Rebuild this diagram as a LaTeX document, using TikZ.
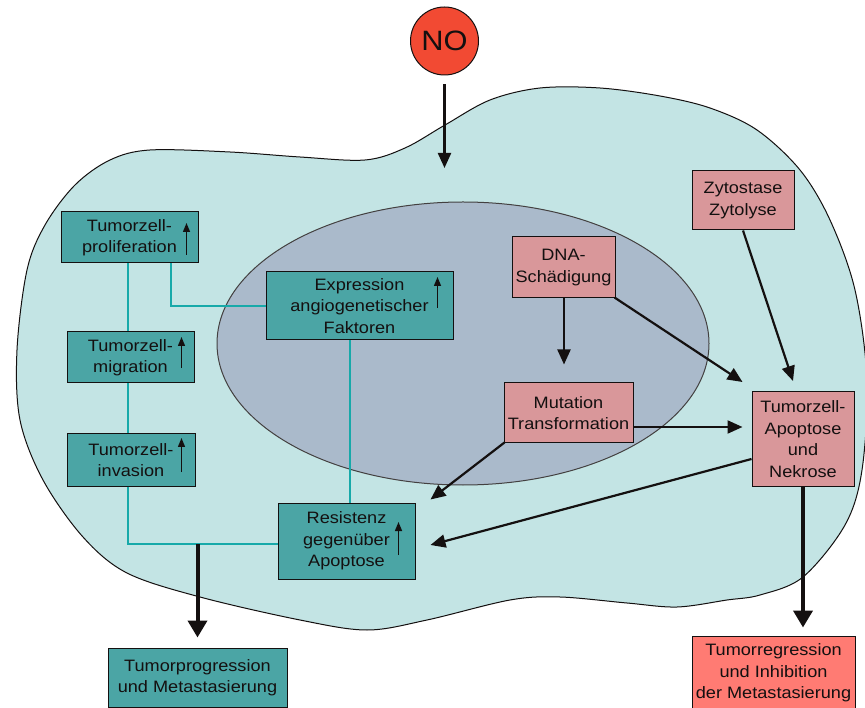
\documentclass[tikz,border=0pt]{standalone}
\usepackage{fontspec}
\setmainfont{Liberation Sans}[FakeStretch=1.1]
\usetikzlibrary{arrows.meta,calc}
\definecolor{cellfill}{HTML}{C3E4E4}
\definecolor{nucfill}{HTML}{AABACB}
\definecolor{tealbox}{HTML}{4BA5A5}
\definecolor{pinkbox}{HTML}{D9979A}
\definecolor{redbox}{HTML}{FF7B73}
\definecolor{nored}{HTML}{F24A33}
\definecolor{tealline}{HTML}{17A9A9}
\definecolor{ink}{HTML}{141010}
\begin{document}
\begin{tikzpicture}[x=1pt,y=-1pt,
  box/.style={draw=ink,line width=1pt,inner sep=0pt,align=center,text=ink,
    font=\fontsize{16.5}{21.5}\selectfont},
  tbox/.style={box,fill=tealbox},
  pbox/.style={box,fill=pinkbox},
  rbox/.style={box,fill=redbox},
  tline/.style={draw=tealline,line width=2.5pt},
  blkarr/.style={draw=ink,line width=2.2pt,-{Triangle[width=13pt,length=15pt]}},
  thickarr/.style={draw=ink,line width=4pt,-{Triangle[width=19pt,length=17pt]}},
  uparr/.style={draw=ink,line width=1.4pt,-{Triangle[width=7pt,length=9pt]}}]
\useasboundingbox (0,0) rectangle (865,708);
\fill[white] (0,0) rectangle (865,708);
% cell
\draw[fill=cellfill,draw=ink,line width=1pt] plot[smooth cycle,tension=0.55] coordinates {
 (17,350) (27,270) (45,225) (75,185) (110,160) (150,150) (230,152) (300,157)
 (365,160) (405,148) (445,125) (490,100) (540,88) (600,88) (660,96) (710,108) (757,130)
 (800,170) (830,220) (855,290) (867,380) (862,470) (845,525) (803,577)
 (760,595) (727,600) (677,607) (627,603) (560,597) (510,600) (427,620)
 (367,630) (300,620) (200,597) (127,573) (83,537) (43,480) (20,420)};
% nucleus
\draw[fill=nucfill,draw=ink!80,line width=1pt] (463,343.5) ellipse [x radius=246, y radius=141.5];
% nodes
\node[circle,minimum size=68pt,inner sep=0pt,fill=nored,draw=ink,line width=1pt,
  text=ink,font=\fontsize{28}{30}\selectfont] (no) at (444.5,41) {NO};
\node[tbox,minimum width=137pt,minimum height=51pt] (prolif) at (129.5,237.5) {Tumorzell-\\proliferation};
\node[tbox,minimum width=187pt,minimum height=68pt] (expr) at (359.5,306) {Expression\\angiogenetischer\\Faktoren};
\node[tbox,minimum width=127pt,minimum height=51pt] (migr) at (130.5,357.5) {Tumorzell-\\migration};
\node[tbox,minimum width=128pt,minimum height=52pt] (inv) at (131,460) {Tumorzell-\\invasion};
\node[tbox,minimum width=137pt,minimum height=76pt] (resist) at (346.5,541) {Resistenz\\gegenüber\\Apoptose};
\node[tbox,minimum width=179pt,minimum height=59pt] (prog) at (197.5,677.5) {Tumorprogression\\und Metastasierung};
\node[pbox,minimum width=103pt,minimum height=61pt] (dna) at (563.5,267.5) {DNA-\\Schädigung};
\node[pbox,minimum width=129pt,minimum height=60pt] (mut) at (568.5,413) {Mutation\\Transformation};
\node[pbox,minimum width=102pt,minimum height=59pt] (zyto) at (743,200.5) {Zytostase\\Zytolyse};
\node[pbox,minimum width=102pt,minimum height=95pt] (apop) at (803,439) {Tumorzell-\\Apoptose\\und\\Nekrose};
\node[rbox,minimum width=163pt,minimum height=74pt] (regr) at (773.5,673) {Tumorregression\\und Inhibition\\der Metastasierung};
% up arrows inside boxes
\draw[uparr] ($(prolif.east)+(-12,17.5)$) -- ++(0,-32);
\draw[uparr] ($(expr.east)+(-16,2)$) -- ++(0,-31);
\draw[uparr] ($(migr.east)+(-13,10.5)$) -- ++(0,-31);
\draw[uparr] ($(inv.east)+(-14,12)$) -- ++(0,-34);
\draw[uparr] ($(resist.east)+(-17,14)$) -- ++(0,-33);
% teal connectors
\coordinate (tj) at ($(resist.west -| prog.north)+(0,3)$);
\draw[tline] ([xshift=-1.5pt]prolif.south) -- ([xshift=-1.5pt]prolif.south |- migr.north);
\draw[tline] ([xshift=-2.5pt]migr.south) -- ([xshift=-2.5pt]migr.south |- inv.north);
\draw[tline] ([xshift=-3pt]inv.south) |- (tj) -- ($(resist.west)+(0,3)$);
\draw[tline] ([xshift=41.5pt]prolif.south) |- (expr.west);
\draw[tline] ([xshift=-9.5pt]expr.south) -- ([xshift=-9.5pt]expr.south |- resist.north);
% black arrows
\coordinate (noend) at (444.5,168);
\draw[blkarr,shorten <=9pt] (no) -- (noend);
\draw[blkarr,shorten >=18pt] ([xshift=0.5pt]dna.south) -- ([xshift=0.5pt]dna.south |- mut.north);
\draw[blkarr] ([xshift=-1pt,yshift=1pt]dna.south east) -- ($(apop.north west)+(-9,-9)$);
\draw[blkarr] (zyto.south) -- ($(apop.north)+(-10,-10)$);
\draw[blkarr] ($(mut.east)+(0,14)$) -- ($(apop.west)+(-9,-12)$);
\draw[blkarr] ([xshift=1pt,yshift=1pt]mut.south west) -- ($(resist.north east)+(15,-3)$);
\draw[blkarr] ($(apop.west)+(0,20)$) -- ($(resist.east)+(15,4)$);
\draw[thickarr,shorten >=10pt] (tj) -- (prog.north);
\draw[thickarr,shorten >=8pt] (apop.south) -- (apop.south |- regr.north);
\end{tikzpicture}
\end{document}
